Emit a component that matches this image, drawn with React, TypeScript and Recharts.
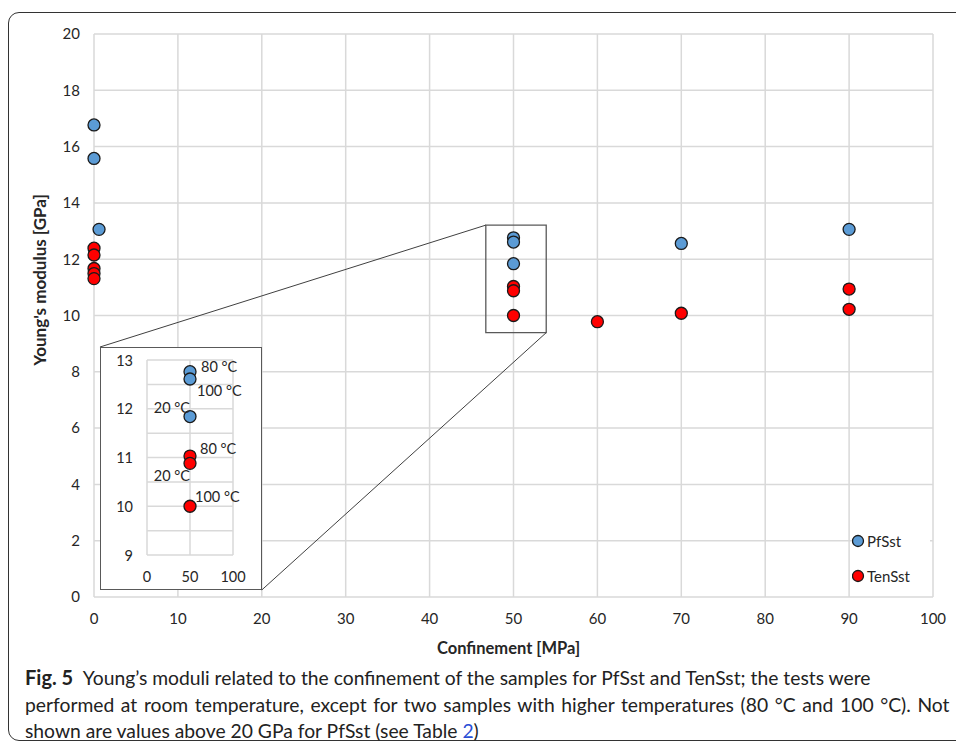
import React from 'react';
import {
  ScatterChart,
  Scatter,
  XAxis,
  YAxis,
  CartesianGrid,
  ReferenceArea,
  ReferenceLine,
  Legend,
  LabelList,
} from 'recharts';

// ---------- data ----------
const pfSstConfinement = [0, 0, 0.6, 50, 50, 50, 70, 90];
const pfSstModulus = [16.77, 15.58, 13.06, 12.76, 12.61, 11.84, 12.56, 13.06];
const pfSstTemperature = ['', '', '', '80 °C', '100 °C', '20 °C', '', ''];

const tenSstConfinement = [0, 0, 0, 0, 0, 50, 50, 50, 60, 70, 90, 90];
const tenSstModulus = [12.39, 12.15, 11.67, 11.49, 11.31, 11.03, 10.88, 10.0, 9.78, 10.08, 10.94, 10.22];
const tenSstTemperature = ['', '', '', '', '', '80 °C', '20 °C', '100 °C', '', '', '', ''];

const xTicks = [0, 10, 20, 30, 40, 50, 60, 70, 80, 90, 100];
const yTicks = [0, 2, 4, 6, 8, 10, 12, 14, 16, 18, 20];
const insetXTicks = [0, 50, 100];
const insetYTicks = [9, 9.5, 10, 10.5, 11, 11.5, 12, 12.5, 13];

const zoomBox = { x1: 46.7, x2: 53.9, y1: 9.39, y2: 13.21 };
const insetConfinement = 50;

const seriesNames = ['PfSst', 'TenSst'];

// ---------- styles ----------
const BLUE = '#5b9bd5';
const RED = '#ff0000';
const GRID = '#d9d9d9';
const TEXT = '#262626';
const FONT = 'Lato, "Open Sans", sans-serif';

const pfData = pfSstConfinement.map((x, i) => ({ x, y: pfSstModulus[i], t: pfSstTemperature[i] }));
const tenData = tenSstConfinement.map((x, i) => ({ x, y: tenSstModulus[i], t: tenSstTemperature[i] }));
const pfInset = pfData.filter((d) => d.x === insetConfinement);
const tenInset = tenData.filter((d) => d.x === insetConfinement);

// label offset styles (per inset point, in order)
const pfLabelStyle = [
  { dx: 11, dy: -5, anchor: 'start' },
  { dx: 7, dy: 11, anchor: 'start' },
  { dx: 0, dy: -9, anchor: 'end' },
];
const tenLabelStyle = [
  { dx: 10, dy: -8, anchor: 'start' },
  { dx: 0, dy: 12, anchor: 'end' },
  { dx: 5, dy: -10, anchor: 'start' },
];

const Dot = (fill: string, r: number) => (props: any) => {
  const { cx, cy } = props;
  if (cx == null || cy == null) return <g />;
  return <circle cx={cx} cy={cy} r={r} fill={fill} stroke="#1a1a1a" strokeWidth={1.3} />;
};

const makeLabel = (styles: any[]) => (props: any) => {
  const { x, y, width, height, value, index } = props;
  const s = styles[index];
  if (!s || !value) return null;
  const cx = x + (width || 0) / 2;
  const cy = y + (height || 0) / 2;
  return (
    <text
      x={cx + s.dx}
      y={cy + s.dy}
      textAnchor={s.anchor}
      dominantBaseline="central"
      fontFamily={FONT}
      fontSize={14.5}
      fill={TEXT}
    >
      {value}
    </text>
  );
};

const LegendContent = () => {
  const colors = [BLUE, RED];
  return (
    <div style={{ background: '#fff', width: 78, height: 67, position: 'relative' }}>
      <svg width={78} height={67}>
        {seriesNames.map((n, i) => (
          <g key={n}>
            <circle cx={6} cy={16 + i * 35} r={5.5} fill={colors[i]} stroke="#1a1a1a" strokeWidth={1.3} />
            <text x={15} y={16 + i * 35} dominantBaseline="central" fontFamily={FONT} fontSize={15} fill={TEXT}>
              {n}
            </text>
          </g>
        ))}
      </svg>
    </div>
  );
};

const InsetTick = (props: any) => {
  const { x, y, payload } = props;
  if (!Number.isInteger(payload.value)) return null;
  return (
    <text x={x} y={y} textAnchor="end" dominantBaseline="central" fontFamily={FONT} fontSize={14.5} fill={TEXT}>
      {payload.value}
    </text>
  );
};

const YLabel = () => {
  const cy = 280;
  return (
    <text
      x={39}
      y={cy}
      transform={`rotate(-90, 39, ${cy})`}
      textAnchor="middle"
      dominantBaseline="central"
      fontFamily={FONT}
      fontWeight={700}
      fontSize={17}
      fill={TEXT}
    >
      Young's modulus [GPa]
    </text>
  );
};

const XLabel = (props: any) => {
  const { viewBox } = props;
  const cx = viewBox.x + viewBox.width / 2 - 5;
  const cy = 648;
  return (
    <text x={cx} y={cy} textAnchor="middle" dominantBaseline="central" fontFamily={FONT} fontWeight={700} fontSize={16.5} fill={TEXT}>
      Confinement [MPa]
    </text>
  );
};

export default function App() {
  return (
    <div style={{ position: 'absolute', left: 0, top: 0, width: 956, height: 748, background: '#fff', overflow: 'hidden' }}>
      {/* frame */}
      <div
        style={{
          position: 'absolute',
          left: 8,
          top: 12,
          width: 980,
          height: 729,
          border: '1px solid #333',
          borderRadius: 11,
          boxSizing: 'border-box',
        }}
      />
      <div style={{ position: 'absolute', left: 0, top: 0 }}>
        <ScatterChart width={956} height={748} margin={{ top: 34, right: 23, left: 34, bottom: 121 }}>
          <CartesianGrid stroke={GRID} strokeWidth={1.5} />
          <XAxis
            type="number"
            dataKey="x"
            domain={[0, 100]}
            ticks={xTicks}
            axisLine={false}
            tickLine={false}
            tickSize={6}
            tickMargin={10}
            height={30}
            tick={{ fontFamily: FONT, fontSize: 15, fill: TEXT }}
            interval={0}
            label={<XLabel />}
          />
          <YAxis
            type="number"
            dataKey="y"
            domain={[0, 20]}
            ticks={yTicks}
            axisLine={false}
            tickLine={false}
            tickSize={6}
            tickMargin={8}
            width={60}
            tick={{ fontFamily: FONT, fontSize: 15, fill: TEXT }}
            interval={0}
            label={<YLabel />}
          />
          <ReferenceArea
            x1={zoomBox.x1}
            x2={zoomBox.x2}
            y1={zoomBox.y1}
            y2={zoomBox.y2}
            fill="none"
            fillOpacity={0}
            stroke="#595959"
            strokeWidth={1.3}
          />
          <ReferenceLine
            segment={[
              { x: zoomBox.x1, y: zoomBox.y2 },
              { x: 0.71, y: 8.88 },
            ]}
            stroke="#404040"
            strokeWidth={1}
          />
          <ReferenceLine
            segment={[
              { x: zoomBox.x2, y: zoomBox.y1 },
              { x: 20, y: 0.25 },
            ]}
            stroke="#404040"
            strokeWidth={1}
          />
          <Scatter name="PfSst" data={pfData} fill={BLUE} shape={Dot(BLUE, 6)} isAnimationActive={false} />
          <Scatter name="TenSst" data={tenData} fill={RED} shape={Dot(RED, 6)} isAnimationActive={false} />
          <Legend
            layout="vertical"
            verticalAlign="middle"
            align="center"
            content={<LegendContent />}
            wrapperStyle={{ left: 852, top: 525, width: 78, height: 67 }}
          />
        </ScatterChart>
      </div>

      {/* inset */}
      <div
        style={{
          position: 'absolute',
          left: 100,
          top: 347,
          width: 162,
          height: 243,
          background: '#fff',
          border: '1px solid #595959',
          boxSizing: 'border-box',
        }}
      >
        <ScatterChart width={160} height={241} margin={{ top: 12, right: 28, left: 6, bottom: 4 }}>
          <CartesianGrid stroke={GRID} strokeWidth={1.5} />
          <XAxis
            type="number"
            dataKey="x"
            domain={[0, 100]}
            ticks={insetXTicks}
            axisLine={false}
            tickLine={false}
            tickSize={6}
            tickMargin={11}
            height={30}
            tick={{ fontFamily: FONT, fontSize: 14.5, fill: TEXT }}
            interval={0}
          />
          <YAxis
            type="number"
            dataKey="y"
            domain={[9, 13]}
            ticks={insetYTicks}
            axisLine={false}
            tickLine={false}
            tickSize={6}
            tickMargin={8}
            width={40}
            tick={<InsetTick />}
            interval={0}
          />
          <Scatter data={pfInset} fill={BLUE} shape={Dot(BLUE, 6)} isAnimationActive={false}>
            <LabelList dataKey="t" content={makeLabel(pfLabelStyle)} />
          </Scatter>
          <Scatter data={tenInset} fill={RED} shape={Dot(RED, 6)} isAnimationActive={false}>
            <LabelList dataKey="t" content={makeLabel(tenLabelStyle)} />
          </Scatter>
        </ScatterChart>
      </div>

      {/* caption */}
      <div
        style={{
          position: 'absolute',
          left: 25,
          top: 664,
          width: 940,
          fontFamily: FONT,
          fontSize: 19.3,
          lineHeight: '26.5px',
          color: '#222',
          whiteSpace: 'nowrap',
        }}
      >
        <span style={{ fontWeight: 700, fontSize: 20 }}>Fig. 5</span>
        {'\u2002'}Young’s moduli related to the confinement of the samples for PfSst and TenSst; the tests were
        <br />
        <span style={{ wordSpacing: 1.7 }}>
          performed at room temperature, except for two samples with higher temperatures (80 °C and 100 °C). Not
        </span>
        <br />
        shown are values above 20 GPa for PfSst (see Table <span style={{ color: '#2a4fd6' }}>2</span>)
      </div>
    </div>
  );
}
